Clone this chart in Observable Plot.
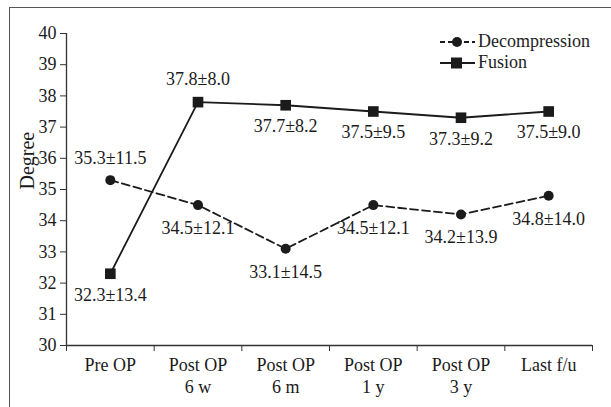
<!DOCTYPE html>
<html>
<head>
<meta charset="utf-8">
<script src="https://cdn.jsdelivr.net/npm/d3@7"></script>
<script src="https://cdn.jsdelivr.net/npm/@observablehq/plot@0.6"></script>
<style>
  html, body { margin: 0; padding: 0; background: #fff; }
  #wrap { position: relative; width: 611px; height: 407px; overflow: hidden; }
  #frame { position: absolute; left: 9px; top: 7px; width: 700px; height: 500px;
           border-left: 1.5px solid #555; border-top: 1.5px solid #555; }
  #chart { position: absolute; left: 0; top: 0; }
  #legend { position: absolute; left: 438px; top: 31px;
            font-family: "Liberation Serif", "Times New Roman", serif;
            font-size: 18px; color: #222; }
  .item { display: flex; align-items: center; height: 21px; }
  .item svg { margin-right: 2px; }
</style>
</head>
<body>
<div id="wrap">
  <div id="frame"></div>
  <div id="chart"></div>
  <div id="legend"></div>
</div>
<script>
const categories = ["Pre OP", "Post OP\n6 w", "Post OP\n6 m", "Post OP\n1 y", "Post OP\n3 y", "Last f/u"];
const decompressionMean = [35.3, 34.5, 33.1, 34.5, 34.2, 34.8];
const decompressionSD = [11.5, 12.1, 14.5, 12.1, 13.9, 14.0];
const fusionMean = [32.3, 37.8, 37.7, 37.5, 37.3, 37.5];
const fusionSD = [13.4, 8.0, 8.2, 9.5, 9.2, 9.0];
const yTicks = [30, 31, 32, 33, 34, 35, 36, 37, 38, 39, 40];
const seriesNames = ["Decompression", "Fusion"];
const yLabel = "Degree";

const ink = "#1b1b1b";
const font = "Liberation Serif, Times New Roman, serif";

const rows = [];
categories.forEach((c, i) => {
  rows.push({series: "Decompression", i, x: i + 0.5, y: decompressionMean[i], sd: decompressionSD[i]});
  rows.push({series: "Fusion", i, x: i + 0.5, y: fusionMean[i], sd: fusionSD[i]});
});
rows.forEach(d => d.label = `${d.y.toFixed(1)}±${d.sd.toFixed(1)}`);
const dec = rows.filter(d => d.series === "Decompression");
const fus = rows.filter(d => d.series === "Fusion");
const decAbove = dec.filter(d => d.i === 0), decBelow = dec.filter(d => d.i !== 0);
const fusAbove = fus.filter(d => d.i === 1), fusBelow = fus.filter(d => d.i !== 1);

const chart = Plot.plot({
  width: 611,
  height: 407,
  marginLeft: 66,
  marginRight: 19,
  marginTop: 33,
  marginBottom: 62,
  x: {type: "linear", domain: [0, categories.length]},
  y: {domain: [30, 40]},
  style: {fontFamily: font, fontSize: "18px", color: ink, background: "transparent", overflow: "visible"},
  marks: [
    Plot.ruleX([0], {y1: 30, y2: 40, stroke: "#333", strokeWidth: 1.3}),
    Plot.ruleY([30], {x1: 0, x2: categories.length, stroke: "#333", strokeWidth: 1.3}),
    Plot.axisY({ticks: yTicks, tickSize: 6, tickPadding: 4, label: null, fontSize: 18, fontFamily: font, stroke: "#333", fill: ink}),
    Plot.axisX({ticks: d3.range(categories.length + 1), tickSize: 6, tickFormat: () => "", label: null, stroke: "#333"}),
    Plot.axisX({ticks: categories.map((c, i) => i + 0.5), tickSize: 0, tickPadding: 11, fontFamily: font,
                tickFormat: d => categories[Math.floor(d)], label: null, fontSize: 18, lineHeight: 1.17, fill: ink}),
    Plot.text([yLabel], {frameAnchor: "left", dx: -39, rotate: -90, fontSize: 20, fontFamily: font, fill: ink}),
    Plot.line(dec, {x: "x", y: "y", stroke: ink, strokeWidth: 1.8, strokeDasharray: "8,4"}),
    Plot.line(fus, {x: "x", y: "y", stroke: ink, strokeWidth: 1.8}),
    Plot.dot(dec, {x: "x", y: "y", r: 5, fill: ink, symbol: "circle"}),
    Plot.dot(fus, {x: "x", y: "y", r: 6, fill: ink, symbol: "square"}),
    Plot.text(decAbove, {x: "x", y: "y", text: "label", dy: -22, fontSize: 18, fontFamily: font, fill: ink}),
    Plot.text(decBelow, {x: "x", y: "y", text: "label", dy: 23, fontSize: 18, fontFamily: font, fill: ink}),
    Plot.text(fusAbove, {x: "x", y: "y", text: "label", dy: -23, fontSize: 18, fontFamily: font, fill: ink}),
    Plot.text(fusBelow, {x: "x", y: "y", text: "label", dy: 21, fontSize: 18, fontFamily: font, fill: ink})
  ]
});
document.getElementById("chart").appendChild(chart);

const legend = document.getElementById("legend");
seriesNames.forEach((name, k) => {
  const item = document.createElement("div");
  item.className = "item";
  const marker = k === 0
    ? `<svg width="38" height="14"><line x1="2" y1="7" x2="37" y2="7" stroke="${ink}" stroke-width="1.8" stroke-dasharray="5,3"/><circle cx="19" cy="7" r="5" fill="${ink}"/></svg>`
    : `<svg width="38" height="14"><line x1="2" y1="7" x2="37" y2="7" stroke="${ink}" stroke-width="1.8"/><rect x="13" y="1.5" width="11" height="11" fill="${ink}"/></svg>`;
  item.innerHTML = marker + `<span>${name}</span>`;
  legend.appendChild(item);
});
</script>
</body>
</html>
